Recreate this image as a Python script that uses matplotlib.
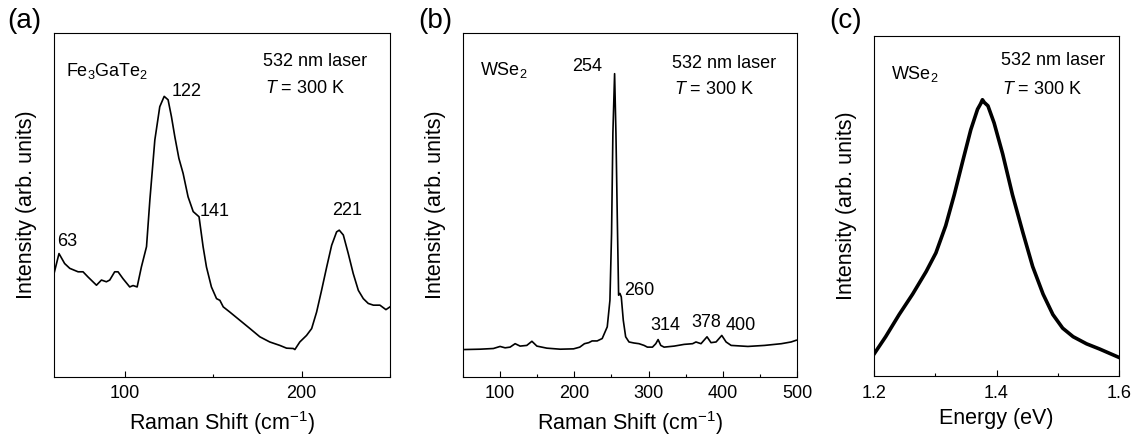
import numpy as np
import matplotlib
matplotlib.use('Agg')
import matplotlib.pyplot as plt
from matplotlib.ticker import MultipleLocator

plt.rcParams['font.family'] = ['Liberation Sans', 'DejaVu Sans']
plt.rcParams['mathtext.fontset'] = 'custom'
plt.rcParams['mathtext.rm'] = 'Liberation Sans'
plt.rcParams['mathtext.it'] = 'Liberation Sans:italic'

# ---- (a) Fe3GaTe2 Raman ----
a_shift = [60, 62.8, 66, 68.9, 73.6, 76.4, 79.2, 84, 86.8, 89.6, 91.5, 94.3,
           96.2, 99, 102.8, 104.7, 107, 109.4, 112.3, 114.2, 117, 119.8,
           122.3, 124.5, 126.4, 128.3, 130.6, 133, 135.8, 138.7, 142, 144.3,
           146.2, 149, 151.9, 153.8, 155.7, 159.4, 165.1, 170.8, 176.4, 182,
           187.7, 191.5, 195.3, 196.2, 199, 202.8, 205.7, 208.5, 211.3,
           214.2, 217, 219.8, 221.3, 223.6, 226.4, 229.2, 232.1, 234.9,
           237.7, 240.6, 244.3, 247.7, 250]
a_int = [0.301, 0.359, 0.330, 0.316, 0.306, 0.306, 0.291, 0.267, 0.282, 0.277,
         0.282, 0.306, 0.306, 0.286, 0.262, 0.266, 0.262, 0.320, 0.379, 0.515,
         0.689, 0.786, 0.816, 0.806, 0.757, 0.699, 0.636, 0.592, 0.524, 0.481,
         0.466, 0.379, 0.320, 0.262, 0.228, 0.223, 0.204, 0.189, 0.165, 0.141,
         0.117, 0.102, 0.092, 0.084, 0.083, 0.080, 0.102, 0.121, 0.141, 0.189,
         0.252, 0.320, 0.383, 0.422, 0.427, 0.413, 0.359, 0.301, 0.252, 0.228,
         0.214, 0.209, 0.209, 0.196, 0.204]
a_peaks = ['63', '122', '141', '221']

# ---- (b) WSe2 Raman ----
b_shift = [52.6, 73, 91, 100, 106.8, 113.5, 120.3, 127, 136, 142.9, 149.6, 163,
           181, 199, 207.4, 213.7, 219.5, 224, 230.8, 237.6, 244.4, 248,
           250.2, 252, 254.3, 256.1, 257.9, 259.7, 261.5, 263.3, 266, 269.2,
           273.7, 280.4, 287.2, 294, 298.5, 305.3, 309.8, 312.9, 316.5, 321,
           334.6, 348, 359.4, 363.9, 370.7, 378.8, 384.2, 391, 398.7, 404.5,
           411.3, 433.9, 456.4, 479, 492.1, 499]
b_int = [0.080, 0.081, 0.083, 0.089, 0.085, 0.087, 0.097, 0.090, 0.092, 0.104,
         0.090, 0.084, 0.081, 0.082, 0.087, 0.097, 0.100, 0.105, 0.105, 0.112,
         0.146, 0.223, 0.417, 0.709, 0.882, 0.709, 0.466, 0.238, 0.243, 0.233,
         0.165, 0.117, 0.102, 0.099, 0.097, 0.092, 0.087, 0.087, 0.097, 0.109,
         0.092, 0.087, 0.090, 0.095, 0.097, 0.102, 0.097, 0.117, 0.100, 0.102,
         0.121, 0.102, 0.092, 0.089, 0.092, 0.097, 0.102, 0.107]
b_peaks = ['254', '260', '314', '378', '400']

# ---- (c) WSe2 PL ----
c_energy = [1.2, 1.219, 1.241, 1.263, 1.285, 1.301, 1.317, 1.331, 1.345,
            1.358, 1.369, 1.374, 1.377, 1.380, 1.386, 1.396, 1.41, 1.426,
            1.443, 1.459, 1.476, 1.492, 1.508, 1.525, 1.547, 1.568, 1.6]
c_int = [0.065, 0.116, 0.181, 0.241, 0.307, 0.362, 0.442, 0.533, 0.633,
         0.724, 0.784, 0.800, 0.812, 0.804, 0.794, 0.744, 0.653, 0.533,
         0.422, 0.322, 0.241, 0.181, 0.141, 0.116, 0.095, 0.080, 0.055]

FS_TICK = 13
FS_LAB = 15.5
FS_TXT = 13


def style_axes(ax, major, minor):
    ax.set_yticks([])
    ax.xaxis.set_major_locator(MultipleLocator(major))
    ax.xaxis.set_minor_locator(MultipleLocator(minor))
    ax.tick_params(axis='x', which='both', direction='in', top=False,
                   labelsize=FS_TICK, pad=6)
    ax.tick_params(axis='x', which='major', length=4, width=0.8)
    ax.tick_params(axis='x', which='minor', length=2.5, width=0.8)
    for s in ax.spines.values():
        s.set_linewidth(0.8)
    ax.set_ylabel('Intensity (arb. units)', fontsize=FS_LAB, labelpad=12)
    ax.set_ylim(0, 1)


def laser_text(ax, x, y1, y2):
    ax.text(x, y1, '532 nm laser', transform=ax.transAxes, fontsize=FS_TXT)
    ax.text(x + 0.005, y2, '$T$ = 300 K', transform=ax.transAxes,
            fontsize=FS_TXT)


fig = plt.figure(figsize=(11.4, 4.41), dpi=100)
H = 0.78
axa = fig.add_axes([0.0474, 0.145, 0.2947, H])
axb = fig.add_axes([0.4061, 0.145, 0.2930, H])
axc = fig.add_axes([0.7667, 0.147, 0.2149, H - 0.008])

# (a)
axa.plot(a_shift, a_int, color='black', lw=1.2)
axa.set_xlim(60, 250)
style_axes(axa, 100, 50)
axa.set_xlabel('Raman Shift (cm$^{-1}$)', fontsize=FS_LAB, labelpad=5)
axa.text(0.037, 0.875, 'Fe$_3$GaTe$_2$', transform=axa.transAxes,
         fontsize=FS_TXT)
laser_text(axa, 0.623, 0.903, 0.825)
axa.text(62, 0.381, a_peaks[0], fontsize=FS_TXT)
axa.text(126.4, 0.816, a_peaks[1], fontsize=FS_TXT)
axa.text(142.5, 0.468, a_peaks[2], fontsize=FS_TXT)
axa.text(225.5, 0.471, a_peaks[3], fontsize=FS_TXT, ha='center')

# (b)
axb.plot(b_shift, b_int, color='black', lw=1.2)
axb.set_xlim(50, 500)
style_axes(axb, 100, 50)
axb.set_xlabel('Raman Shift (cm$^{-1}$)', fontsize=FS_LAB, labelpad=5)
axb.text(0.05, 0.879, 'WSe$_2$', transform=axb.transAxes, fontsize=FS_TXT)
laser_text(axb, 0.626, 0.898, 0.822)
axb.text(237.6, 0.890, b_peaks[0], fontsize=FS_TXT, ha='right')
axb.text(267.8, 0.238, b_peaks[1], fontsize=FS_TXT)
axb.text(302, 0.136, b_peaks[2], fontsize=FS_TXT)
axb.text(358, 0.146, b_peaks[3], fontsize=FS_TXT)
axb.text(404.5, 0.136, b_peaks[4], fontsize=FS_TXT)

# (c)
axc.plot(c_energy, c_int, color='black', lw=2.6)
axc.set_xlim(1.2, 1.6)
style_axes(axc, 0.2, 0.1)
axc.xaxis.set_major_formatter(matplotlib.ticker.FormatStrFormatter('%.1f'))
axc.set_xlabel('Energy (eV)', fontsize=FS_LAB, labelpad=5)
axc.text(0.068, 0.874, 'WSe$_2$', transform=axc.transAxes, fontsize=FS_TXT)
laser_text(axc, 0.518, 0.915, 0.829)

for lab, x in (('(a)', 0.006), ('(b)', 0.367), ('(c)', 0.727)):
    fig.text(x, 0.936, lab, fontsize=20)

fig.savefig('out.png', dpi=100)
